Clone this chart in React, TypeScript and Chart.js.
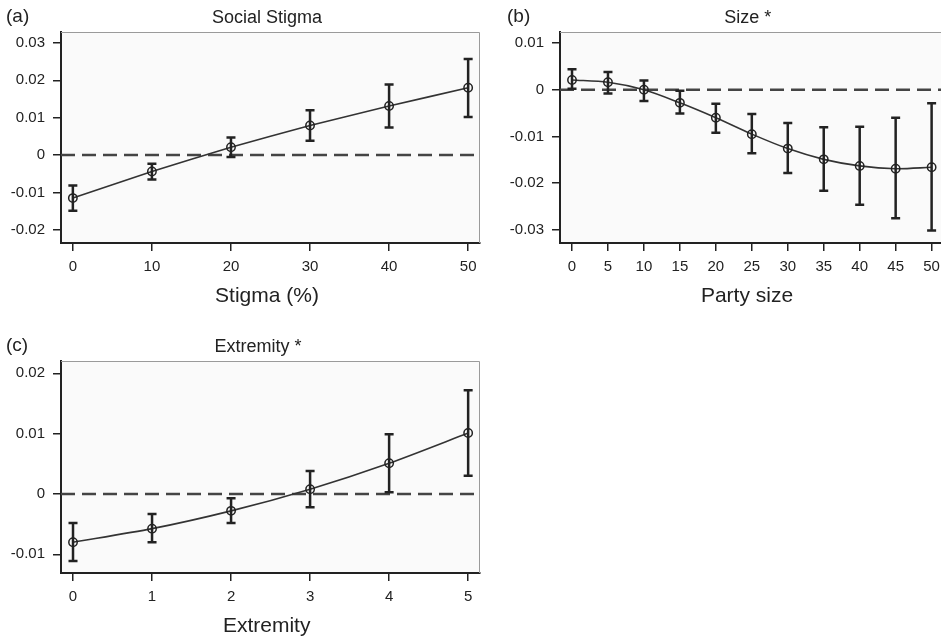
import React, { useEffect, useRef } from 'react';
import { Chart, registerables } from 'chart.js';
Chart.register(...registerables);

const FONT = '"Liberation Sans", Arial, Helvetica, sans-serif';

// Panel (a) Social Stigma
const stigmaX = [0, 10, 20, 30, 40, 50];
const stigmaEst = [-0.0115, -0.0044, 0.0021, 0.0079, 0.0131, 0.018];
const stigmaLo = [-0.0149, -0.0065, -0.0005, 0.0038, 0.0074, 0.0102];
const stigmaHi = [-0.0081, -0.0023, 0.0047, 0.012, 0.0189, 0.0257];
const stigmaXTicks = [0, 10, 20, 30, 40, 50];
const stigmaYTicks = [-0.02, -0.01, 0, 0.01, 0.02, 0.03];

// Panel (b) Size *
const sizeX = [0, 5, 10, 15, 20, 25, 30, 35, 40, 45, 50];
const sizeEst = [0.0021, 0.0016, 0.0, -0.0028, -0.006, -0.0095, -0.0126, -0.0149, -0.0163, -0.0169, -0.0166];
const sizeLo = [0.0002, -0.0008, -0.0024, -0.0051, -0.0092, -0.0136, -0.0178, -0.0216, -0.0246, -0.0275, -0.0301];
const sizeHi = [0.0044, 0.0038, 0.002, -0.0002, -0.003, -0.0052, -0.0071, -0.008, -0.0079, -0.006, -0.0029];
const sizeXTicks = [0, 5, 10, 15, 20, 25, 30, 35, 40, 45, 50];
const sizeYTicks = [-0.03, -0.02, -0.01, 0, 0.01];

// Panel (c) Extremity *
const extX = [0, 1, 2, 3, 4, 5];
const extEst = [-0.008, -0.00575, -0.0028, 0.0008, 0.0051, 0.0101];
const extLo = [-0.0111, -0.008, -0.0048, -0.0022, 0.0003, 0.003];
const extHi = [-0.0048, -0.0033, -0.0007, 0.0038, 0.0099, 0.0172];
const extXTicks = [0, 1, 2, 3, 4, 5];
const extYTicks = [-0.01, 0, 0.01, 0.02];

type PanelProps = {
  left: number; top: number; width: number; height: number;
  pad: { left: number; top: number; right: number; bottom: number };
  yWidth: number; xHeight: number;
  xMin: number; xMax: number; yMin: number; yMax: number;
  xs: number[]; est: number[]; lo: number[]; hi: number[];
  xTicks: number[]; yTicks: number[];
  letter: string; title: string; axisTitle: string;
  letterX: number; titleX: number; axisTitleX: number;
  tension: number;
};

function Panel(p: PanelProps) {
  const ref = useRef<HTMLCanvasElement | null>(null);
  useEffect(() => {
    const canvas = ref.current;
    if (!canvas) return;

    const bgPlugin = {
      id: 'panelBg',
      beforeDraw(chart: any) {
        const { ctx, chartArea: a } = chart;
        ctx.save();
        ctx.fillStyle = '#fafafa';
        ctx.fillRect(a.left, a.top, a.right - a.left, a.bottom - a.top);
        ctx.restore();
      },
      afterDraw(chart: any) {
        const { ctx, chartArea: a } = chart;
        ctx.save();
        ctx.strokeStyle = '#9a9a9a';
        ctx.lineWidth = 1;
        ctx.beginPath();
        ctx.moveTo(a.left, a.top + 0.5);
        ctx.lineTo(a.right - 0.5, a.top + 0.5);
        ctx.lineTo(a.right - 0.5, a.bottom);
        ctx.stroke();
        ctx.restore();
      },
    };

    const errPlugin = {
      id: 'errBars',
      afterDatasetsDraw(chart: any) {
        const { ctx } = chart;
        const xs = chart.scales.x;
        const ys = chart.scales.y;
        ctx.save();
        ctx.strokeStyle = '#222';
        ctx.lineWidth = 2.5;
        ctx.lineCap = 'butt';
        p.xs.forEach((xv, i) => {
          const px = xs.getPixelForValue(xv);
          const y1 = ys.getPixelForValue(p.lo[i]);
          const y2 = ys.getPixelForValue(p.hi[i]);
          ctx.beginPath();
          ctx.moveTo(px, y1);
          ctx.lineTo(px, y2);
          ctx.moveTo(px - 4.5, y1);
          ctx.lineTo(px + 4.5, y1);
          ctx.moveTo(px - 4.5, y2);
          ctx.lineTo(px + 4.5, y2);
          ctx.stroke();
        });
        ctx.restore();
      },
    };

    const textPlugin = {
      id: 'panelText',
      afterDraw(chart: any) {
        const { ctx, chartArea: a } = chart;
        ctx.save();
        ctx.fillStyle = '#222';
        ctx.textBaseline = 'alphabetic';
        ctx.font = `19px ${FONT}`;
        ctx.textAlign = 'left';
        ctx.fillText(p.letter, p.letterX - p.left, a.top - 10);
        ctx.font = `18px ${FONT}`;
        ctx.textAlign = 'center';
        ctx.fillText(p.title, p.titleX - p.left, a.top - 8.7);
        ctx.font = `21px ${FONT}`;
        ctx.fillText(p.axisTitle, p.axisTitleX - p.left, a.bottom + 58.5);
        ctx.restore();
      },
    };

    const tickColor = '#222';
    const chart = new Chart(canvas, {
      type: 'line',
      data: {
        datasets: [
          {
            data: p.xs.map((x, i) => ({ x, y: p.est[i] })),
            borderColor: '#333',
            borderWidth: 1.6,
            pointRadius: 4.2,
            pointBorderWidth: 1.5,
            pointBorderColor: '#222',
            pointBackgroundColor: 'rgba(0,0,0,0)',
            tension: p.tension,
            fill: false,
          },
          {
            data: [{ x: p.xMin, y: 0 }, { x: p.xMax, y: 0 }],
            borderColor: '#444',
            borderWidth: 2.5,
            borderDash: [14, 7],
            pointRadius: 0,
            fill: false,
          },
        ],
      },
      options: {
        responsive: false,
        animation: false,
        events: [],
        layout: { padding: p.pad },
        plugins: { legend: { display: false }, tooltip: { enabled: false }, title: { display: false } },
        scales: {
          x: {
            type: 'linear',
            min: p.xMin,
            max: p.xMax,
            afterBuildTicks: (s: any) => { s.ticks = p.xTicks.map((v) => ({ value: v })); },
            afterFit: (s: any) => { s.height = p.xHeight; },
            ticks: {
              font: { family: FONT, size: 15 },
              color: tickColor,
              padding: 7,
              maxRotation: 0,
              autoSkip: false,
              includeBounds: false,
              callback: (v: any) => String(v),
            },
            grid: { drawOnChartArea: false, drawTicks: true, tickLength: 8, color: tickColor, lineWidth: 1.5 },
            border: { display: true, color: tickColor, width: 2 },
          },
          y: {
            type: 'linear',
            min: p.yMin,
            max: p.yMax,
            afterBuildTicks: (s: any) => { s.ticks = p.yTicks.map((v) => ({ value: v })); },
            afterFit: (s: any) => { s.width = p.yWidth; },
            ticks: {
              font: { family: FONT, size: 15 },
              color: tickColor,
              padding: 8,
              autoSkip: false,
              includeBounds: false,
              callback: (v: any) => (Math.abs(Number(v)) < 1e-9 ? '0' : Number(v).toFixed(2)),
            },
            grid: { drawOnChartArea: false, drawTicks: true, tickLength: 8, color: tickColor, lineWidth: 1.5 },
            border: { display: true, color: tickColor, width: 2 },
          },
        },
      },
      plugins: [bgPlugin, errPlugin, textPlugin],
    } as any);
    return () => chart.destroy();
  }, []);
  return (
    <canvas
      ref={ref}
      width={p.width}
      height={p.height}
      style={{ position: 'absolute', left: p.left, top: p.top, width: p.width, height: p.height }}
    />
  );
}

export default function App() {
  return (
    <div style={{ position: 'absolute', left: 0, top: 0, width: 941, height: 639, overflow: 'hidden', background: '#fff' }}>
      <Panel
        left={0} top={0} width={490} height={320}
        pad={{ left: 0, top: 32, right: 10, bottom: 0 }} yWidth={61} xHeight={77}
        xMin={-1.5} xMax={51.5} yMin={-0.0235} yMax={0.0329}
        xs={stigmaX} est={stigmaEst} lo={stigmaLo} hi={stigmaHi}
        xTicks={stigmaXTicks} yTicks={stigmaYTicks}
        letter="(a)" title="Social Stigma" axisTitle="Stigma (%)"
        letterX={6} titleX={267} axisTitleX={267} tension={0.15}
      />
      <Panel
        left={480} top={0} width={475} height={320}
        pad={{ left: 0, top: 32, right: 9, bottom: 0 }} yWidth={80} xHeight={77}
        xMin={-1.67} xMax={52} yMin={-0.0328} yMax={0.01236}
        xs={sizeX} est={sizeEst} lo={sizeLo} hi={sizeHi}
        xTicks={sizeXTicks} yTicks={sizeYTicks}
        letter="(b)" title="Size *" axisTitle="Party size"
        letterX={507} titleX={747.7} axisTitleX={747} tension={0.3}
      />
      <Panel
        left={0} top={320} width={490} height={319}
        pad={{ left: 0, top: 41, right: 10, bottom: 0 }} yWidth={61} xHeight={66}
        xMin={-0.152} xMax={5.15} yMin={-0.0131} yMax={0.02204}
        xs={extX} est={extEst} lo={extLo} hi={extHi}
        xTicks={extXTicks} yTicks={extYTicks}
        letter="(c)" title="Extremity *" axisTitle="Extremity"
        letterX={6} titleX={258} axisTitleX={266.7} tension={0.25}
      />
    </div>
  );
}
